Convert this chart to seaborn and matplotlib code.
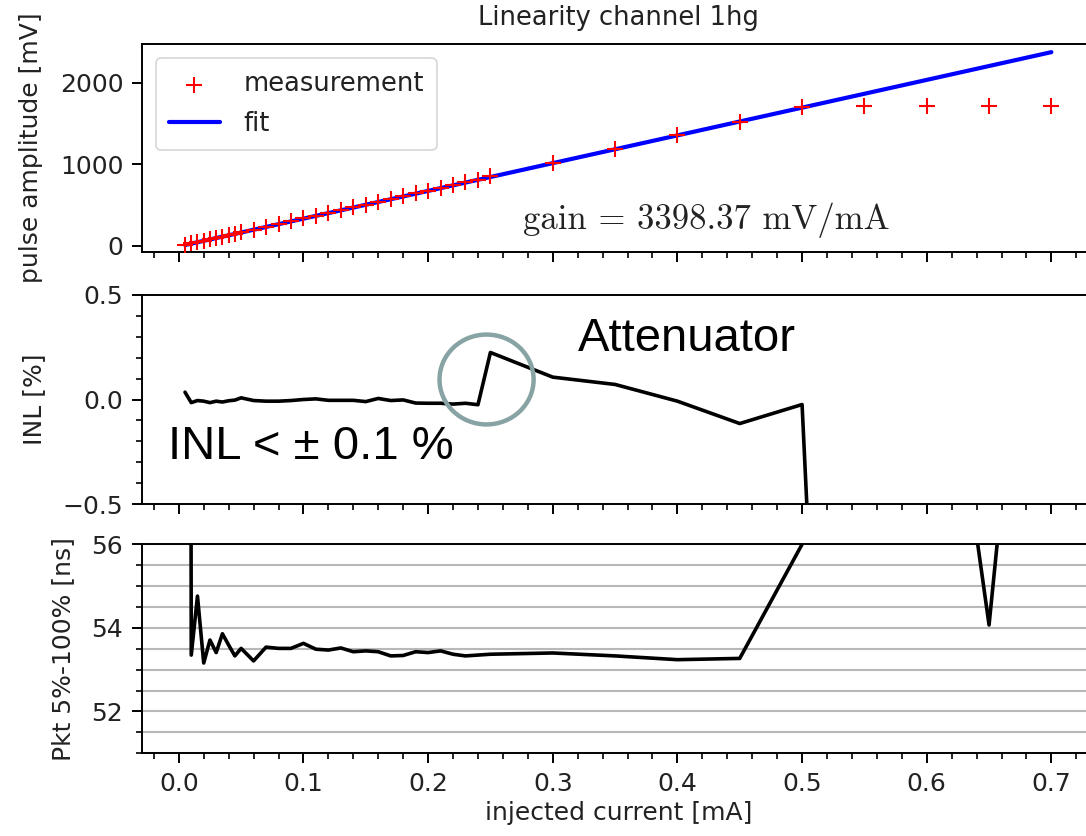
import numpy as np
import pandas as pd
import matplotlib
matplotlib.use("Agg")
import matplotlib.pyplot as plt
from matplotlib.patches import Ellipse
from matplotlib.ticker import MultipleLocator
import seaborn as sns

# ---------------- data ----------------
current = [0.005, 0.010, 0.015, 0.020, 0.025, 0.030, 0.035, 0.040, 0.045, 0.050,
           0.06, 0.07, 0.08, 0.09, 0.10, 0.11, 0.12, 0.13, 0.14, 0.15,
           0.16, 0.17, 0.18, 0.19, 0.20, 0.21, 0.22, 0.23, 0.24, 0.25,
           0.30, 0.35, 0.40, 0.45, 0.50, 0.55, 0.60, 0.65, 0.70]

amplitude = [14, 31, 48, 65, 82, 99, 116, 133, 150, 167,
             201, 235, 269, 303, 337, 371, 405, 439, 473, 507,
             541, 575, 609, 643, 677, 711, 745, 779, 812, 852,
             1022, 1191, 1358, 1524, 1700, 1718, 1720, 1720, 1720]

fit_x = [0.005, 0.70]
fit_y = [12, 2374]

inl = [0.035, -0.015, -0.005, -0.008, -0.015, -0.008, -0.012, -0.006, -0.003, 0.008,
       -0.005, -0.008, -0.008, -0.005, 0.0, 0.003, -0.004, -0.004, -0.004, -0.010,
       0.005, -0.005, -0.002, -0.017, -0.018, -0.018, -0.022, -0.018, -0.025, 0.225,
       0.107, 0.072, -0.008, -0.115, -0.024, -6.3, -13.0, -19.5, -26.0]

pkt = [150.0, 53.35, 54.76, 53.16, 53.71, 53.41, 53.86, 53.59, 53.33, 53.51,
       53.21, 53.54, 53.51, 53.51, 53.63, 53.49, 53.47, 53.52, 53.43, 53.45,
       53.43, 53.33, 53.34, 53.43, 53.41, 53.45, 53.37, 53.33, 53.35, 53.37,
       53.40, 53.33, 53.24, 53.27, 56.0, 60.0, 64.7, 54.07, 69.0]

x_ticks = [0.0, 0.1, 0.2, 0.3, 0.4, 0.5, 0.6, 0.7]

df = pd.DataFrame({"current": current, "amplitude": amplitude, "inl": inl, "pkt": pkt})
fit_df = pd.DataFrame({"current": fit_x, "fit": fit_y})

# ---------------- style ----------------
sns.set_theme(style="ticks")
plt.rcParams.update({
    "font.family": ["DejaVu Sans"],
    "font.size": 18,
    "axes.linewidth": 1.4,
    "axes.edgecolor": "black",
    "xtick.major.width": 1.4,
    "ytick.major.width": 1.4,
    "xtick.minor.width": 1.2,
    "ytick.minor.width": 1.2,
    "xtick.major.size": 7.2,
    "ytick.major.size": 7.2,
    "xtick.minor.size": 4.3,
    "ytick.minor.size": 4.3,
    "xtick.major.pad": 6,
    "ytick.major.pad": 6,
    "xtick.labelsize": 18,
    "ytick.labelsize": 18,
    "axes.labelsize": 18,
    "xtick.color": "black",
    "ytick.color": "black",
    "xtick.labelcolor": "#222222",
    "ytick.labelcolor": "#222222",
    "text.color": "#222222",
    "axes.labelcolor": "#222222",
})

fig = plt.figure(figsize=(10.86, 8.36), dpi=100)
W, H = 1086.0, 836.0
left = 141.7 / W
width = (1094.7 - 141.7) / W
ax1 = fig.add_axes([left, 1 - 251.7 / H, width, 207.4 / H])
ax2 = fig.add_axes([left, 1 - 504.0 / H, width, 209.0 / H])
ax3 = fig.add_axes([left, 1 - 753.3 / H, width, 209.0 / H])

# ---- top panel ----
sns.scatterplot(data=df, x="current", y="amplitude", ax=ax1, marker="+",
                color="red", s=130, linewidth=1.5, label="measurement", zorder=3)
sns.lineplot(data=fit_df, x="current", y="fit", ax=ax1, color="blue",
             linewidth=3.0, label="fit", zorder=2)
ax1.set_ylim(-70, 2470)
ax1.set_yticks([0, 1000, 2000])
ax1.set_ylabel("pulse amplitude [mV]", labelpad=12)
ax1.set_xlabel("")
ax1.set_title("Linearity channel 1hg", fontsize=18.5, pad=14)
leg = ax1.legend(loc="upper left", fontsize=18.5, frameon=True, framealpha=0.8,
                 edgecolor="#cccccc", handlelength=2.0, borderpad=0.5,
                 labelspacing=0.55, handletextpad=0.9, borderaxespad=0.55,
                 markerscale=1.0)
leg.get_frame().set_linewidth(1.2)
ax1.text(0.276, 318, "gain = 3398.37 mV/mA", family="cmr10",
         fontsize=25, ha="left", va="center", color="#222222")

# ---- INL panel ----
sns.lineplot(data=df, x="current", y="inl", ax=ax2, color="black", linewidth=2.6,
             sort=False, estimator=None)
ax2.set_ylim(-0.5, 0.5)
ax2.set_yticks([-0.5, 0.0, 0.5])
ax2.yaxis.set_minor_locator(MultipleLocator(0.1))
ax2.set_ylabel("INL [%]", labelpad=12)
ax2.set_xlabel("")
ax2.text(0.32, 0.291, "Attenuator", family="Liberation Sans", fontsize=34,
         ha="left", va="center", color="black")
ax2.text(-0.0086, -0.225, "INL < \u00b1 0.1 %", family="Liberation Sans", fontsize=34,
         ha="left", va="center", color="black")
ax2.add_patch(Ellipse((0.2469, 0.0957), 0.0755, 0.43, fill=False,
                      edgecolor="#88a3a3", linewidth=3.2, clip_on=False, zorder=5))

# ---- timing panel ----
sns.lineplot(data=df, x="current", y="pkt", ax=ax3, color="black", linewidth=2.6,
             sort=False, estimator=None)
ax3.set_ylim(51, 56)
ax3.set_yticks([52, 54, 56])
ax3.yaxis.set_minor_locator(MultipleLocator(0.5))
ax3.yaxis.grid(True, which="both", color="#b8b8b8", linewidth=1.5)
ax3.set_axisbelow(True)
ax3.set_ylabel("Pkt 5%-100% [ns]", labelpad=12)
ax3.set_xlabel("injected current [mA]")

for ax in (ax1, ax2, ax3):
    ax.set_xlim(-0.02975, 0.73475)
    ax.set_xticks(x_ticks)
    ax.xaxis.set_minor_locator(MultipleLocator(0.02))
    ax.tick_params(which="both", direction="out")
    for s in ax.spines.values():
        s.set_visible(True)
        s.set_linewidth(1.4)
for ax in (ax1, ax2):
    ax.tick_params(axis="x", labelbottom=False)
ax3.set_xticklabels([f"{t:.1f}" for t in x_ticks])

fig.savefig("out.png", dpi=100)
